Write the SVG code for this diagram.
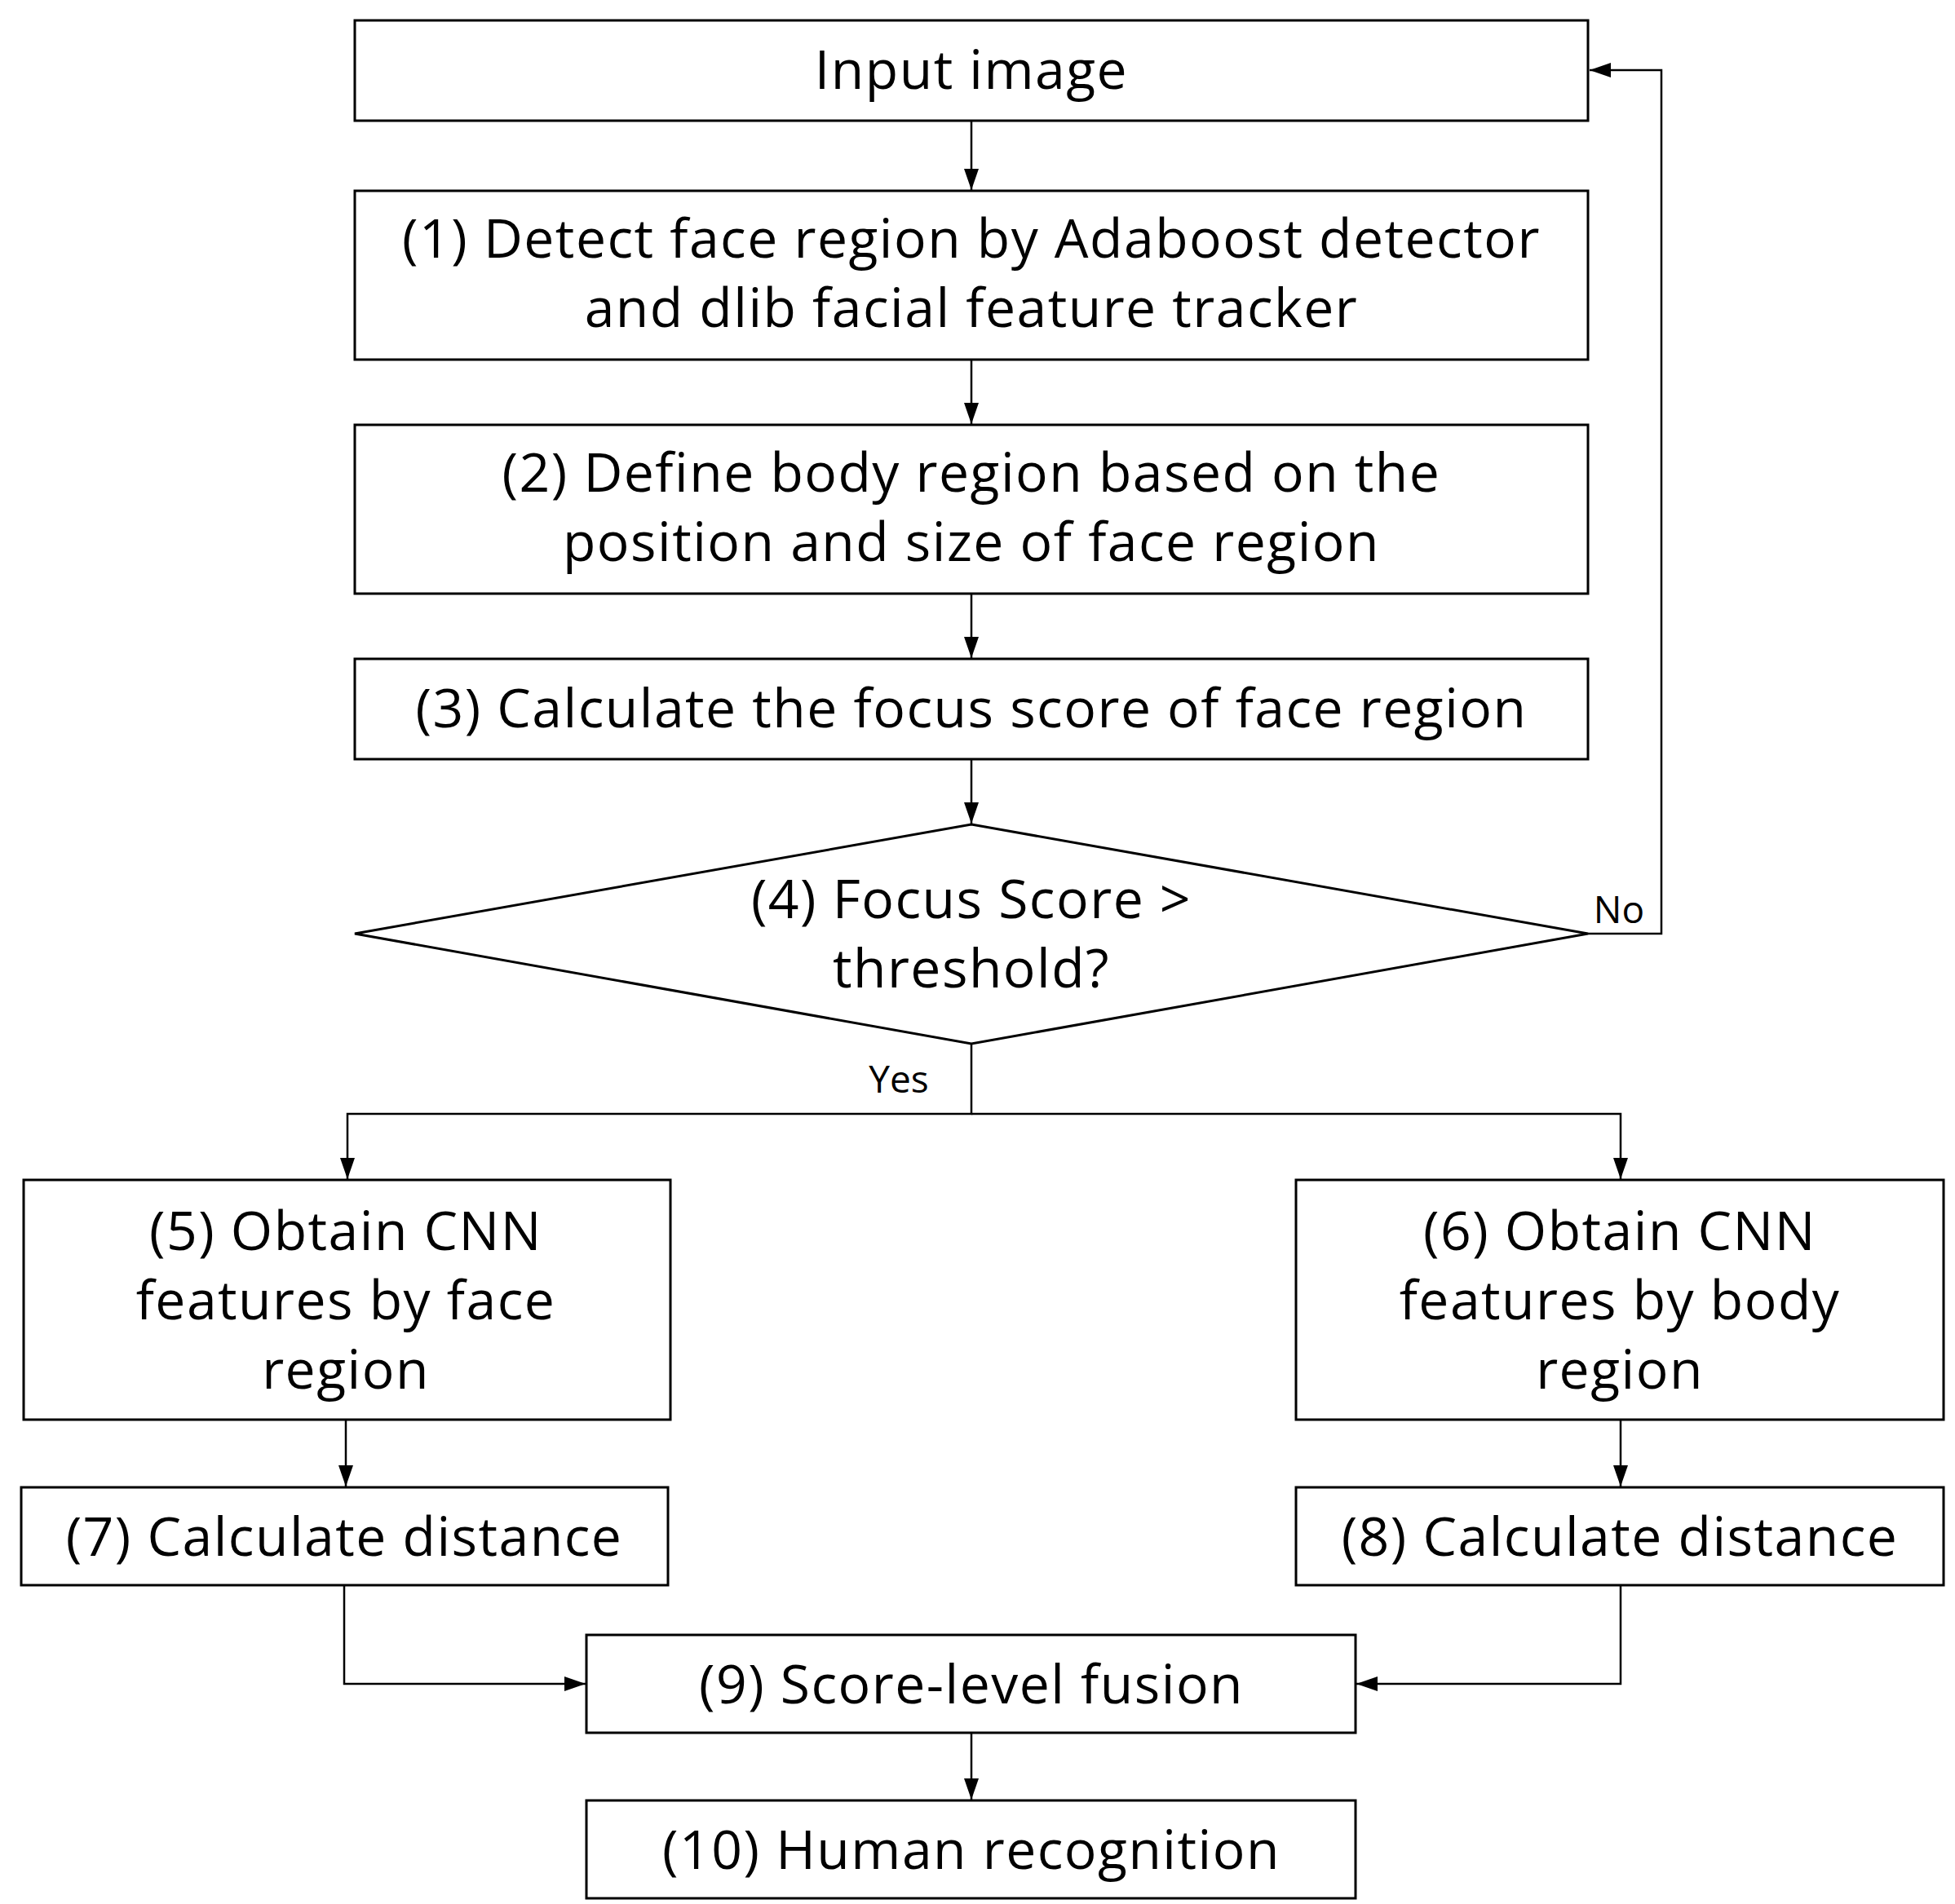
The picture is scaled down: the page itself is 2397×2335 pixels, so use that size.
<svg xmlns="http://www.w3.org/2000/svg" width="2397" height="2335" viewBox="0 0 2397 2335">
<style>
.b{fill:#fff;stroke:#000;stroke-width:3}
.t{font-family:"Open Sans","Noto Sans",sans-serif;font-size:66px;letter-spacing:1.5px;text-anchor:middle;fill:#000}
.s{font-family:"Open Sans","Noto Sans",sans-serif;font-size:46px;text-anchor:middle;fill:#000}
.c{fill:none;stroke:#000;stroke-width:2.5}
</style>
<defs><marker id="a" markerWidth="26" markerHeight="18" refX="26" refY="9" orient="auto" markerUnits="userSpaceOnUse" viewBox="0 0 26 18"><path d="M0,0L26,9L0,18z" fill="#000"/></marker></defs>
<rect width="2397" height="2335" fill="#fff"/>
<g id="connectors">
<path class="c" d="M1191 148V233" marker-end="url(#a)"/>
<path class="c" d="M1191 441V520" marker-end="url(#a)"/>
<path class="c" d="M1191 728V807" marker-end="url(#a)"/>
<path class="c" d="M1191 931V1010" marker-end="url(#a)"/>
<path class="c" d="M1947 1145H2037V86H1949" marker-end="url(#a)"/>
<path class="c" d="M1191 1280V1366H426V1446" marker-end="url(#a)"/>
<path class="c" d="M1191 1366H1987V1446" marker-end="url(#a)"/>
<path class="c" d="M424 1741V1823" marker-end="url(#a)"/>
<path class="c" d="M1987 1741V1823" marker-end="url(#a)"/>
<path class="c" d="M422 1944V2065H718" marker-end="url(#a)"/>
<path class="c" d="M1987 1944V2065H1663" marker-end="url(#a)"/>
<path class="c" d="M1191 2125V2207" marker-end="url(#a)"/>
<text class="s" x="1985" y="1132">No</text>
<text class="s" x="1102" y="1340">Yes</text>
</g>
<g id="n0"><rect class="b" x="435" y="25" width="1512" height="123"/><text class="t" x="1191" y="109">Input image</text></g>
<g id="n1"><rect class="b" x="435" y="234" width="1512" height="207"/><text class="t" x="1191" y="316">(1) Detect face region by Adaboost detector</text><text class="t" x="1191" y="401">and dlib facial feature tracker</text></g>
<g id="n2"><rect class="b" x="435" y="521" width="1512" height="207"/><text class="t" x="1191" y="603">(2) Define body region based on the</text><text class="t" x="1191" y="688">position and size of face region</text></g>
<g id="n3"><rect class="b" x="435" y="808" width="1512" height="123"/><text class="t" x="1191" y="892">(3) Calculate the focus score of face region</text></g>
<g id="n4"><path class="b" d="M1191 1011L1947 1145L1191 1280L435 1145Z"/><text class="t" x="1191" y="1126">(4) Focus Score &gt;</text><text class="t" x="1191" y="1211">threshold?</text></g>
<g id="n5"><rect class="b" x="29" y="1447" width="793" height="294"/><text class="t" x="424" y="1533">(5) Obtain CNN</text><text class="t" x="424" y="1618">features by face</text><text class="t" x="424" y="1703">region</text></g>
<g id="n6"><rect class="b" x="1589" y="1447" width="794" height="294"/><text class="t" x="1986" y="1533">(6) Obtain CNN</text><text class="t" x="1986" y="1618">features by body</text><text class="t" x="1986" y="1703">region</text></g>
<g id="n7"><rect class="b" x="26" y="1824" width="793" height="120"/><text class="t" x="422" y="1908">(7) Calculate distance</text></g>
<g id="n8"><rect class="b" x="1589" y="1824" width="794" height="120"/><text class="t" x="1986" y="1908">(8) Calculate distance</text></g>
<g id="n9"><rect class="b" x="719" y="2005" width="943" height="120"/><text class="t" x="1191" y="2089">(9) Score-level fusion</text></g>
<g id="n10"><rect class="b" x="719" y="2208" width="943" height="120"/><text class="t" x="1191" y="2292">(10) Human recognition</text></g>
</svg>
